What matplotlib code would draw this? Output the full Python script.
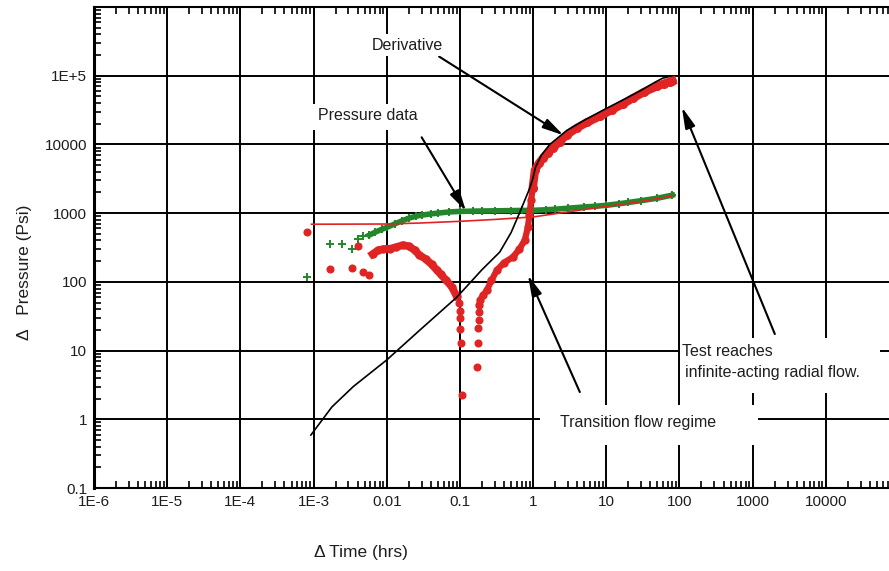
import matplotlib
matplotlib.use("Agg")
import matplotlib.pyplot as plt
from matplotlib.patches import Rectangle
from matplotlib.ticker import LogLocator, FixedLocator, FixedFormatter, NullFormatter

plt.rcParams['font.family'] = ['Liberation Sans', 'DejaVu Sans']
plt.rcParams['font.size'] = 10

# ---- data -------------------------------------------------------------
# Pressure data (green crosses): sparse early readings
press_early_t = [0.00081, 0.00168, 0.00244, 0.00335, 0.00404, 0.00473]
press_early_p = [117, 354, 354, 299, 419, 463]
# Pressure data: dense record
press_t = [0.0058, 0.0070, 0.0085, 0.010, 0.013, 0.016, 0.020, 0.025, 0.030,
           0.040, 0.050, 0.070, 0.10, 0.15, 0.20, 0.30, 0.50, 0.70, 1.0, 1.5,
           2.0, 3.0, 5.0, 7.0, 10, 15, 20, 30, 50, 80]
press_p = [479, 530, 580, 620, 700, 770, 845, 900, 935,
           975, 1000, 1040, 1060, 1070, 1075, 1080, 1090, 1095, 1100, 1120,
           1140, 1180, 1230, 1260, 1300, 1370, 1430, 1520, 1650, 1830]

# Pressure model (thin red line)
model_t = [0.00094, 0.003, 0.01, 0.03, 0.1, 0.3, 1, 2, 5, 10, 30, 80]
model_p = [690, 692, 695, 720, 760, 810, 880, 980, 1130, 1250, 1480, 1780]

# Derivative model (black line)
dmodel_t = [0.00092, 0.00178, 0.0035, 0.01, 0.0284, 0.091, 0.2, 0.35, 0.5,
            0.66, 0.8, 0.9, 1.0, 1.08, 1.3, 1.69, 2.9, 5.0, 9.6, 18, 28.8,
            45, 59, 74]
dmodel_d = [0.59, 1.51, 3.0, 7.3, 19.9, 60, 150, 271, 520,
            1035, 1700, 2310, 3300, 4670, 7000, 10000, 16000, 22500, 32600,
            46000, 60000, 79000, 92000, 98000]

# Derivative data (red circles): scattered early points
deriv_early_t = [0.00081, 0.00168, 0.00335, 0.00404, 0.0047, 0.0057]
deriv_early_d = [530, 153, 158, 331, 139, 125]
# Derivative data: descending branch before the dip
deriv_fall_t = [0.0064, 0.0077, 0.0090, 0.0111, 0.0135, 0.0166, 0.020, 0.024,
                0.028, 0.034, 0.041, 0.048, 0.055, 0.065, 0.078, 0.090]
deriv_fall_d = [253, 290, 300, 304, 320, 343, 330, 290,
                245, 215, 180, 150, 128, 105, 84, 62]
# Derivative data: isolated points in the dip
deriv_dip_t = [0.098, 0.099, 0.100, 0.101, 0.102, 0.106,
               0.170, 0.174, 0.178, 0.180, 0.182]
deriv_dip_d = [49, 37.6, 29.7, 20.6, 12.9, 2.25,
               5.76, 12.9, 21.2, 27.8, 36]
# Derivative data: rising branch to late time
deriv_rise_t = [0.185, 0.19, 0.21, 0.234, 0.27, 0.32, 0.40, 0.53, 0.65, 0.77,
                0.85, 0.89, 0.94, 0.99]
deriv_rise_d = [46, 55, 65, 76, 105, 148, 190, 229, 300, 405,
                625, 935, 1545, 2360]
deriv_late_t = [0.99, 1.06, 1.2, 1.36, 1.6, 1.86, 2.3, 2.9,
                4.0, 5.5, 8.2, 12, 17, 23, 33, 49, 62, 74, 80]
deriv_late_d = [2360, 4220, 5300, 6300, 7600, 8800, 11000, 13800,
                17500, 21000, 25800, 32000, 39000, 47000, 58000, 70000, 77000, 82000, 84000]

x_tick_vals = [1e-6, 1e-5, 1e-4, 1e-3, 1e-2, 1e-1, 1, 10, 100, 1000, 10000, 1e5]
x_tick_labels = ['1E-6', '1E-5', '1E-4', '1E-3', '0.01', '0.1', '1', '10',
                 '100', '1000', '10000', '']
y_tick_vals = [0.1, 1, 10, 100, 1000, 10000, 1e5, 1e6]
y_tick_labels = ['0.1', '1', '10', '100', '1000', '10000', '1E+5', '']

RED = '#e02424'
GREEN = '#23862a'
TXT = '#1e1e1e'

# ---- figure -----------------------------------------------------------
W, H = 889, 571
fig = plt.figure(figsize=(W / 100, H / 100), dpi=100)
fig.patch.set_facecolor('white')


def fx(px):
    return px / W


def fy(py):
    return 1 - py / H


ax = fig.add_axes([fx(94), fy(488), fx(899 - 94), (488 - 7) / H])
ax.set_xscale('log')
ax.set_yscale('log')
ax.set_xlim(1e-6, 1e5)
ax.set_ylim(0.1, 1e6)

ax.xaxis.set_major_locator(FixedLocator(x_tick_vals))
ax.xaxis.set_major_formatter(FixedFormatter(x_tick_labels))
ax.yaxis.set_major_locator(FixedLocator(y_tick_vals))
ax.yaxis.set_major_formatter(FixedFormatter(y_tick_labels))
ax.xaxis.set_minor_locator(LogLocator(base=10, subs=[2, 3, 4, 5, 6, 7, 8, 9], numticks=30))
ax.yaxis.set_minor_locator(LogLocator(base=10, subs=[2, 3, 4, 5, 6, 7, 8, 9], numticks=30))
ax.xaxis.set_minor_formatter(NullFormatter())
ax.yaxis.set_minor_formatter(NullFormatter())

ax.tick_params(which='both', direction='in', top=True, right=False,
               color='black', labelsize=11, labelcolor=TXT)
ax.tick_params(which='major', length=6, width=1.2, pad=5)
ax.tick_params(which='minor', length=5, width=1.2)

ax.grid(True, which='major', color='black', linewidth=1.4)
ax.set_axisbelow(True)
for side, lw in (('left', 2.2), ('bottom', 1.5), ('top', 1.5), ('right', 1.5)):
    ax.spines[side].set_linewidth(lw)
    ax.spines[side].set_color('black')

# black derivative model
ax.plot(dmodel_t, dmodel_d, color='black', lw=1.2, zorder=4)
# thin red pressure model
ax.plot(model_t, model_p, color=RED, lw=1.2, zorder=3)
# pressure data
ax.plot(press_early_t, press_early_p, linestyle='none', marker='+',
        color=GREEN, markersize=6, mew=1.4, zorder=3)
ax.plot(press_t, press_p, linestyle='-', lw=4, marker='+',
        color=GREEN, markersize=6, mew=1.4, zorder=2.8)
# derivative data
ax.plot(deriv_early_t, deriv_early_d, linestyle='none', marker='o',
        color=RED, markersize=4.8, zorder=3)
ax.plot(deriv_fall_t, deriv_fall_d, linestyle='-', lw=5.5, marker='o',
        color=RED, markersize=5, zorder=3)
ax.plot(deriv_dip_t, deriv_dip_d, linestyle='none', marker='o',
        color=RED, markersize=4.8, zorder=3)
ax.plot(deriv_rise_t, deriv_rise_d, linestyle='-', lw=4.5, marker='o',
        color=RED, markersize=5, zorder=3)
ax.plot(deriv_late_t, deriv_late_d, linestyle='-', lw=6, marker='o',
        color=RED, markersize=5.5, zorder=3)

# arrows
arrow_kw = dict(arrowstyle='-|>,head_length=0.9,head_width=0.22',
                color='black', lw=1.5, shrinkA=0, shrinkB=0,
                mutation_scale=14)
ax.annotate('', xy=(2.6, 13600), xytext=(0.052, 190000),
            arrowprops=arrow_kw, annotation_clip=False, zorder=5)
ax.annotate('', xy=(0.121, 1070), xytext=(0.030, 12700),
            arrowprops=arrow_kw, annotation_clip=False, zorder=5)
ax.annotate('', xy=(0.85, 125), xytext=(4.35, 2.49),
            arrowprops=arrow_kw, annotation_clip=False, zorder=5)
ax.annotate('', xy=(108, 34800), xytext=(2010, 17.4),
            arrowprops=arrow_kw, annotation_clip=False, zorder=5)


# white label panels and their text
def panel(x0, y0, x1, y1):
    fig.add_artist(Rectangle((fx(x0), fy(y1)), fx(x1 - x0), (y1 - y0) / H,
                             transform=fig.transFigure, facecolor='white',
                             edgecolor='none', zorder=1))


LBL = 11.5
panel(366, 34, 456, 56)
fig.text(fx(372), fy(45), 'Derivative', ha='left', va='center',
         color=TXT, fontsize=LBL, zorder=2)

panel(312, 104, 424, 130)
fig.text(fx(318), fy(116), 'Pressure data', ha='left', va='center',
         color=TXT, fontsize=LBL, zorder=2)

panel(680, 338, 880, 393)
fig.text(fx(682), fy(352), 'Test reaches', ha='left', va='center',
         color=TXT, fontsize=LBL, zorder=2)
fig.text(fx(685), fy(372), 'infinite-acting radial flow.', ha='left',
         va='center', color=TXT, fontsize=LBL, zorder=2)

panel(540, 405, 758, 445)
fig.text(fx(560), fy(423), 'Transition flow regime', ha='left', va='center',
         color=TXT, fontsize=LBL, zorder=2)

# axis titles
fig.text(fx(25), fy(272), '\u0394   Pressure (Psi)', rotation=90,
         ha='center', va='center', color=TXT, fontsize=12.5)
fig.text(fx(361), fy(553), '\u0394 Time (hrs)', ha='center', va='center',
         color=TXT, fontsize=12.5)

fig.savefig('out.png', dpi=100)
